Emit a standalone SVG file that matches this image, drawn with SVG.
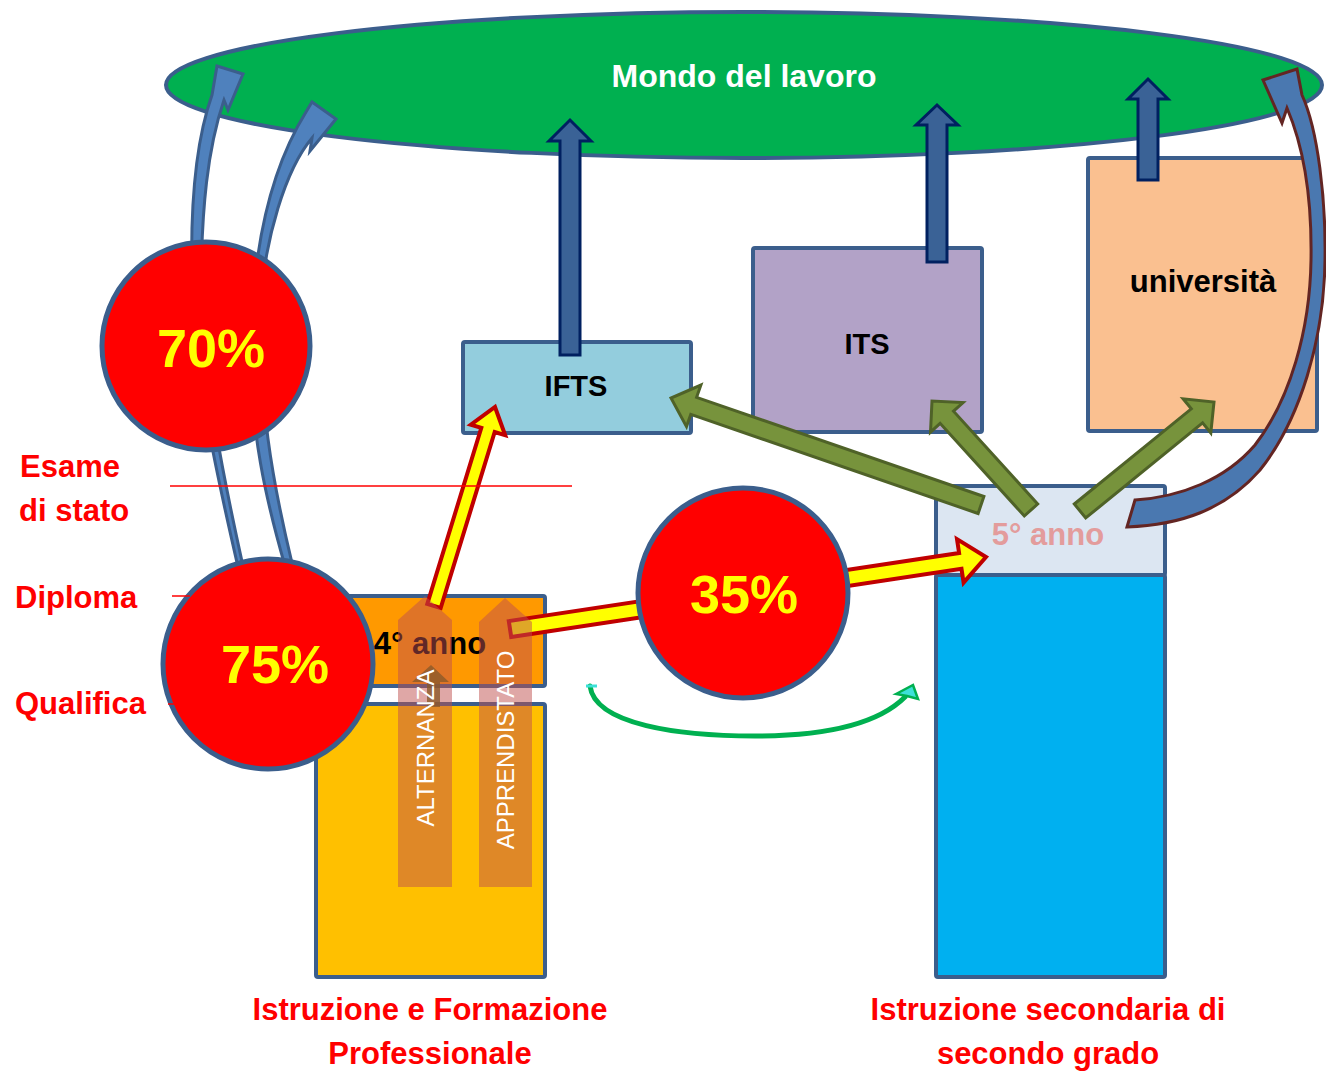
<svg xmlns="http://www.w3.org/2000/svg" width="1326" height="1073" viewBox="0 0 1326 1073">
<style>
.t{font-family:"Liberation Sans",Arial,sans-serif;font-weight:bold}
.box{stroke:#3B5E8C;stroke-width:4}
.circ{fill:#FF0000;stroke:#3B5E8C;stroke-width:5}
.pct{font-size:54px;fill:#FFFF00;text-anchor:middle}
.lbl{font-size:31px;fill:#FF0000}
.mid{text-anchor:middle}
.bt{fill:#000000;text-anchor:middle}
.darr{fill:#3A6296;stroke:#002060;stroke-width:3;stroke-linejoin:miter}
.garr{fill:#77933C;stroke:#4F6228;stroke-width:3}
.yarr{fill:#FFFF00;stroke:#C00000;stroke-width:4}
.barr{fill:#4F81BD;stroke:#3B5E8C;stroke-width:3}
.rl{stroke:#FF0000;stroke-width:1.5}
.ov{fill:#C0504D;fill-opacity:0.5}
.vt{font-family:"Liberation Sans",Arial,sans-serif;font-size:24px;fill:#FFFFFF;text-anchor:middle}
</style>
<rect width="1326" height="1073" fill="#FFFFFF"/>

<g id="mondo">
<ellipse cx="744" cy="85" rx="578" ry="73" fill="#00B050" stroke="#3B5E8C" stroke-width="4"/>
<text class="t mid" x="744" y="87" font-size="32" fill="#FFFFFF">Mondo del lavoro</text>
</g>

<g id="ifts">
<rect class="box" x="463" y="342" width="228" height="91" rx="2" fill="#93CDDD"/>
<text class="t bt" x="576" y="396" font-size="29">IFTS</text>
</g>
<g id="its">
<rect class="box" x="753" y="248" width="229" height="184" rx="2" fill="#B2A2C7"/>
<text class="t bt" x="867" y="354" font-size="29">ITS</text>
</g>
<g id="universita">
<rect class="box" x="1088" y="158" width="229" height="273" rx="2" fill="#FAC090"/>
<text class="t bt" x="1203" y="292" font-size="31">università</text>
</g>
<g id="quinto-anno">
<rect class="box" x="936" y="486" width="229" height="89" rx="2" fill="#DCE6F2"/>
<text class="t mid" x="1048" y="545" font-size="31" fill="#E39C9C">5° anno</text>
</g>
<g id="secondaria">
<rect class="box" x="936" y="575" width="229" height="402" rx="2" fill="#00B0F0"/>
<text class="t lbl mid" x="1048" y="1020">Istruzione secondaria di</text>
<text class="t lbl mid" x="1048" y="1064">secondo grado</text>
</g>
<g id="quarto-anno">
<rect class="box" x="318" y="596" width="227" height="90" rx="2" fill="#FF9900"/>
<text class="t bt" x="430" y="654" font-size="31">4° anno</text>
</g>
<g id="iefp">
<rect class="box" x="316" y="704" width="229" height="273" rx="2" fill="#FFC000"/>
<text class="t lbl mid" x="430" y="1020">Istruzione e Formazione</text>
<text class="t lbl mid" x="430" y="1064">Professionale</text>
</g>

<g id="connectors">
<polygon class="darr" points="560,355 560,141 549,141 570,120 591,141 580,141 580,355"/>
<polygon class="darr" points="927,262 927,125 916,125 937,105 958,125 947,125 947,262"/>
<polygon class="darr" points="1138,180 1138,99 1128,99 1148,79 1168,99 1158,99 1158,180"/>
<polygon class="garr" points="983.9,496.5 696.6,397.3 700.9,385.0 671,398 686.5,426.6 690.8,414.3 978.1,513.5"/>
<polygon class="garr" points="1037.7,504 953.5,411.2 963.1,402.5 932,401 930.5,432.1 940.1,423.3 1024.3,516"/>
<polygon class="garr" points="1074.3,504 1191.3,408.9 1183.1,398.8 1214,402 1210.8,433 1202.6,422.9 1085.7,518"/>
<polygon class="yarr" points="440.7,608 494.7,432 505.2,435.2 495,407 470.8,424.7 481.3,427.9 427.3,604"/>
<polygon class="yarr" points="511.2,636.9 961.5,568.8 963.6,582.6 986,557 957,539.1 959.1,553 508.8,621.1"/>
<path fill="#4A78B0" stroke="#632523" stroke-width="3" stroke-linejoin="miter" d="M1263,80 L1297,69 L1302,95 C1318,130 1326,200 1325,260 C1324,340 1300,420 1260,470 C1225,510 1180,525 1127,527 L1135,500 C1180,497 1225,480 1255,445 C1290,400 1310,330 1311,260 C1312,200 1305,150 1287,108 L1282,123 Z"/>
<path class="barr" d="M238,567 C218,480 195,380 192,280 C190,200 196,140 212,95 L217,66 L243,74 L228,110 L224,100 C207,150 202,210 201,280 C203,380 224,480 243,566 Z"/>
<path class="barr" d="M285,566 C266,500 250,430 251,350 C252,250 270,170 306,112 L312,102 L336,119 L310,151 L312,138 C285,170 265,240 261,300 C258,400 272,480 292,563 Z"/>
<path d="M590,686 C595,725 680,736 755,736 C830,736 880,722 905,697" fill="none" stroke="#00B050" stroke-width="5" stroke-linecap="round"/>
<polygon points="896,694 913,685 918,699 907,696" fill="#3DE0D8" stroke="#00B050" stroke-width="2.5"/>
<path d="M586,686 L597,686" stroke="#3DE0D8" stroke-width="3"/>
</g>

<g id="alternanza">
<polygon class="ov" points="398,887 398,620 425,596 452,620 452,887"/>
<polygon points="427,707 427,682 412,682 431,665 449,682 440,682 440,707" fill="#8B5A2B" fill-opacity="0.8"/>
<text class="vt" transform="translate(434,748) rotate(-90)">ALTERNANZA</text>
</g>
<g id="apprendistato">
<polygon class="ov" points="479,887 479,622 505,598 532,622 532,887"/>
<text class="vt" transform="translate(514,750) rotate(-90)">APPRENDISTATO</text>
</g>

<g id="c70">
<circle class="circ" cx="206" cy="346" r="104"/>
<text class="t pct" x="211" y="367">70%</text>
</g>
<g id="c75">
<circle class="circ" cx="268" cy="664" r="105"/>
<text class="t pct" x="275" y="683">75%</text>
</g>
<g id="c35">
<circle class="circ" cx="743" cy="593" r="105"/>
<text class="t pct" x="744" y="613">35%</text>
</g>

<g id="livelli">
<line class="rl" x1="170" y1="486" x2="572" y2="486"/>
<line class="rl" x1="172" y1="596" x2="190" y2="596"/>
<line class="rl" x1="168" y1="704" x2="180" y2="704"/>
<text class="t lbl" x="20" y="477">Esame</text>
<text class="t lbl" x="19" y="521">di stato</text>
<text class="t lbl" x="15" y="608">Diploma</text>
<text class="t lbl" x="15" y="714">Qualifica</text>
</g>
</svg>
